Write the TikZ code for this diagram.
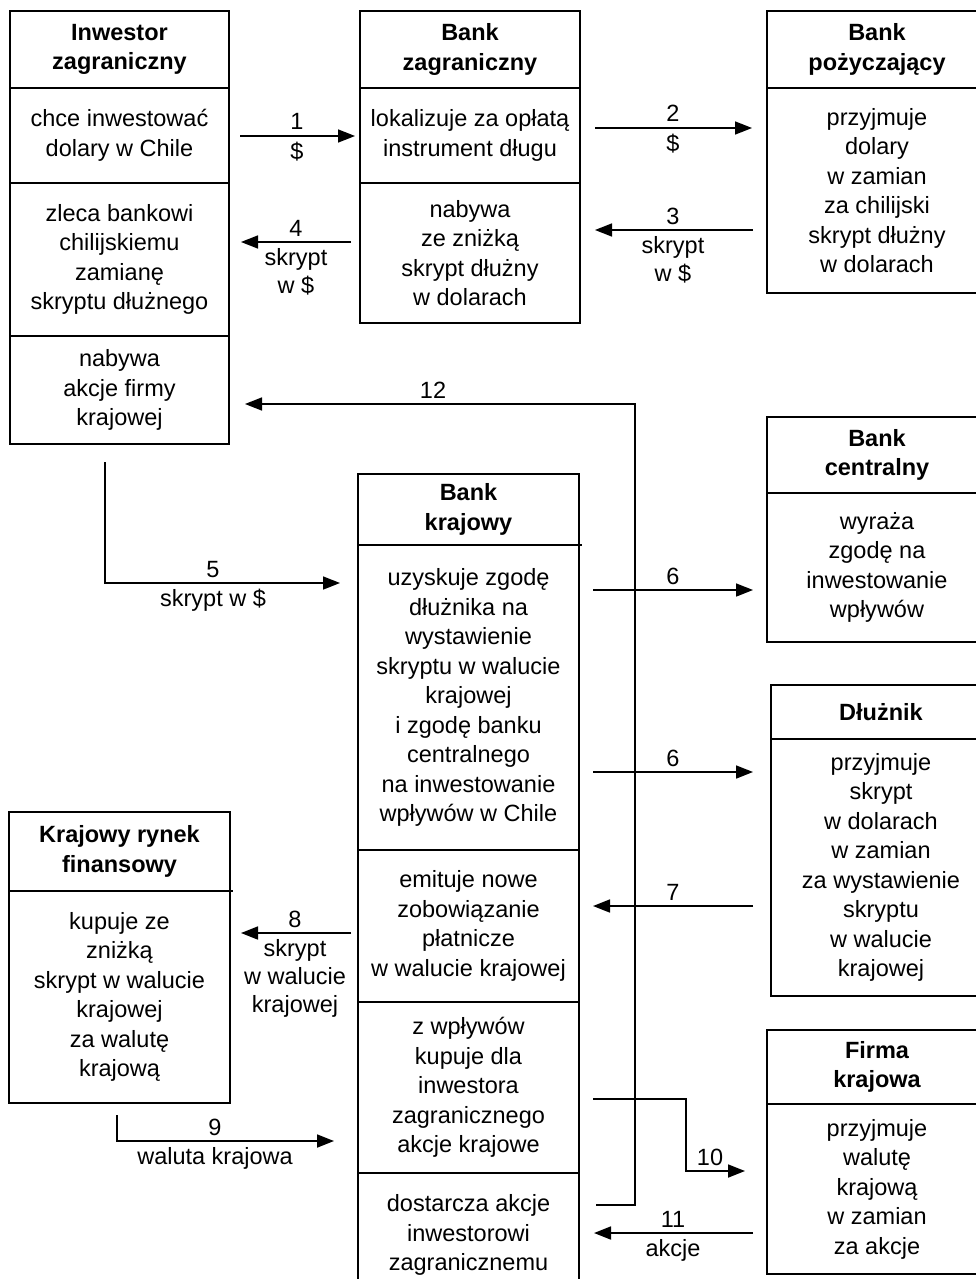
\documentclass[tikz,border=0pt]{standalone}
\usepackage{fontspec}
\setmainfont{Liberation Sans}
\usetikzlibrary{arrows.meta}
\begin{document}
\begin{tikzpicture}[x=1pt,y=-1pt,
  sec/.style={draw, line width=1.7pt, anchor=north west, inner sep=0pt, outer sep=0pt,
    align=center, font=\fontsize{23.5}{29.5}\selectfont},
  hd/.style={sec, font=\fontsize{23.5}{29.5}\selectfont\bfseries},
  wA/.style={minimum width=219pt},
  wB/.style={minimum width=220pt},
  wG/.style={minimum width=221pt},
  lbl/.style={anchor=base, inner sep=0pt, font=\fontsize{23.5}{28}\selectfont},
  arr/.style={line width=1.7pt, -{Triangle[length=17pt,width=13pt]}},
  ln/.style={line width=1.7pt}]
\useasboundingbox (0,0) rectangle (976,1279);
\clip (0,0) rectangle (976,1279);

% Inwestor zagraniczny
\node[hd, wA, minimum height=77pt] (A0) at (10,11) {Inwestor\\zagraniczny};
\node[sec, wA, minimum height=95pt] (A1) at (10,88) {chce inwestować\\dolary w Chile};
\node[sec, wA, minimum height=153pt] (A2) at (10,183) {zleca bankowi\\chilijskiemu\\zamianę\\skryptu dłużnego};
\node[sec, wA, minimum height=108pt] (A3) at (10,336) {nabywa\\akcje firmy\\krajowej};

% Bank zagraniczny
\node[hd, wB, minimum height=77pt] (B0) at (360,11) {Bank\\zagraniczny};
\node[sec, wB, minimum height=95pt] (B1) at (360,88) {lokalizuje za opłatą\\instrument długu};
\node[sec, wB, minimum height=140pt] (B2) at (360,183) {nabywa\\ze zniżką\\skrypt dłużny\\w dolarach};

% Bank pozyczajacy
\node[hd, wB, minimum height=77pt] (C0) at (767,11) {Bank\\pożyczający};
\node[sec, wB, minimum height=205pt] (C1) at (767,88) {przyjmuje\\dolary\\w zamian\\za chilijski\\skrypt dłużny\\w dolarach};

% Bank centralny
\node[hd, wB, minimum height=76pt] (D0) at (767,417) {Bank\\centralny};
\node[sec, wB, minimum height=149pt] (D1) at (767,493) {wyraża\\zgodę na\\inwestowanie\\wpływów};

% Dluznik
\node[hd, wB, minimum height=54pt] (E0) at (771,685) {Dłużnik};
\node[sec, wB, minimum height=257pt] (E1) at (771,739) {przyjmuje\\skrypt\\w dolarach\\w zamian\\za wystawienie\\skryptu\\w walucie\\krajowej};

% Firma krajowa
\node[hd, wB, minimum height=74pt] (F0) at (767,1030) {Firma\\krajowa};
\node[sec, wB, minimum height=170pt] (F1) at (767,1104) {przyjmuje\\walutę\\krajową\\w zamian\\za akcje};

% Bank krajowy
\node[hd, wG, minimum height=71pt] (G0) at (358,474) {Bank\\krajowy};
\node[sec, wG, minimum height=305pt] (G1) at (358,545) {uzyskuje zgodę\\dłużnika na\\wystawienie\\skryptu w walucie\\krajowej\\i zgodę banku\\centralnego\\na inwestowanie\\wpływów w Chile};
\node[sec, wG, minimum height=152pt] (G2) at (358,850) {emituje nowe\\zobowiązanie\\płatnicze\\w walucie krajowej};
\node[sec, wG, minimum height=171pt] (G3) at (358,1002) {z wpływów\\kupuje dla\\inwestora\\zagranicznego\\akcje krajowe};
\node[sec, wG, minimum height=124pt] (G4) at (358,1173) {dostarcza akcje\\inwestorowi\\zagranicznemu};

% Krajowy rynek finansowy
\node[hd, wG, minimum height=79pt] (H0) at (9,812) {Krajowy rynek\\finansowy};
\node[sec, wG, minimum height=212pt] (H1) at (9,891) {kupuje ze\\zniżką\\skrypt w walucie\\krajowej\\za walutę\\krajową};

% small overhangs of header lines
\draw[ln] (G0.south east) -- ++(3,0);
\draw[ln] (H0.south east) -- ++(3,0);

% levels
\coordinate (y1) at (0,136);
\coordinate (y2) at (0,128);
\coordinate (y3) at (0,230);
\coordinate (y4) at (0,242);
\coordinate (y5) at (0,583);
\coordinate (y6a) at (0,590);
\coordinate (y6b) at (0,772);
\coordinate (y7) at (0,906);
\coordinate (y8) at (0,933);
\coordinate (y9) at (0,1141);
\coordinate (y10) at (0,1099);
\coordinate (c10) at (686,1171);
\coordinate (y11) at (0,1233);
\coordinate (y12) at (0,1205);
\coordinate (c12) at (635,404);

% connectors
\draw[arr, shorten <=11pt, shorten >=5pt] (A1.east |- y1) -- (B1.west |- y1);
\draw[arr, shorten <=15pt, shorten >=15pt] (B1.east |- y2) -- (C1.west |- y2);
\draw[arr, shorten <=14pt, shorten >=15pt] (C1.west |- y3) -- (B2.east |- y3);
\draw[arr, shorten <=9pt, shorten >=12pt] (B2.west |- y4) -- (A2.east |- y4);
\draw[arr, shorten <=18pt, shorten >=18pt] ([xshift=95pt]A3.south west) |- (G1.west |- y5);
\draw[arr, shorten <=14pt, shorten >=14pt] (G1.east |- y6a) -- (D1.west |- y6a);
\draw[arr, shorten <=14pt, shorten >=18pt] (G1.east |- y6b) -- (E1.west |- y6b);
\draw[arr, shorten <=18pt, shorten >=14pt] (E1.west |- y7) -- (G2.east |- y7);
\draw[arr, shorten <=7pt, shorten >=11pt] (G2.west |- y8) -- (H1.east |- y8);
\draw[arr, shorten <=12pt, shorten >=24pt] ([xshift=108pt]H1.south west) |- (G3.west |- y9);
\draw[arr, shorten <=14pt, shorten >=22pt] (G3.east |- y10) -| (c10) -- (F1.west |- c10);
\draw[arr, shorten <=14pt, shorten >=15pt] (F1.west |- y11) -- (G4.east |- y11);
\draw[arr, shorten <=17pt, shorten >=16pt] (G4.east |- y12) -| (c12) -- (A3.east |- c12);

% labels
\node[lbl] (n1) at (297,130) {1};
\node[lbl] (n1b) at (297,159) {\$};
\node[lbl] (n2) at (673,122) {2};
\node[lbl] (n2b) at (673,151) {\$};
\node[lbl] (n3) at (673,224) {3};
\node[lbl] (n3b) at (673,253) {skrypt};
\node[lbl] (n3c) at (673,281) {w \$};
\node[lbl] (n4) at (296,236) {4};
\node[lbl] (n4b) at (296,265) {skrypt};
\node[lbl] (n4c) at (296,293) {w \$};
\node[lbl] (n5) at (213,577) {5};
\node[lbl] (n5b) at (213,606) {skrypt w \$};
\node[lbl] (n6a) at (673,584) {6};
\node[lbl] (n6b) at (673,766) {6};
\node[lbl] (n7) at (673,900) {7};
\node[lbl] (n8) at (295,927) {8};
\node[lbl] (n8b) at (295,956) {skrypt};
\node[lbl] (n8c) at (295,984) {w walucie};
\node[lbl] (n8d) at (295,1012) {krajowej};
\node[lbl] (n9) at (215,1135) {9};
\node[lbl] (n9b) at (215,1164) {waluta krajowa};
\node[lbl] (n10) at (710,1165) {10};
\node[lbl] (n11) at (673,1227) {11};
\node[lbl] (n11b) at (673,1256) {akcje};
\node[lbl] (n12) at (433,398) {12};
\end{tikzpicture}
\end{document}
